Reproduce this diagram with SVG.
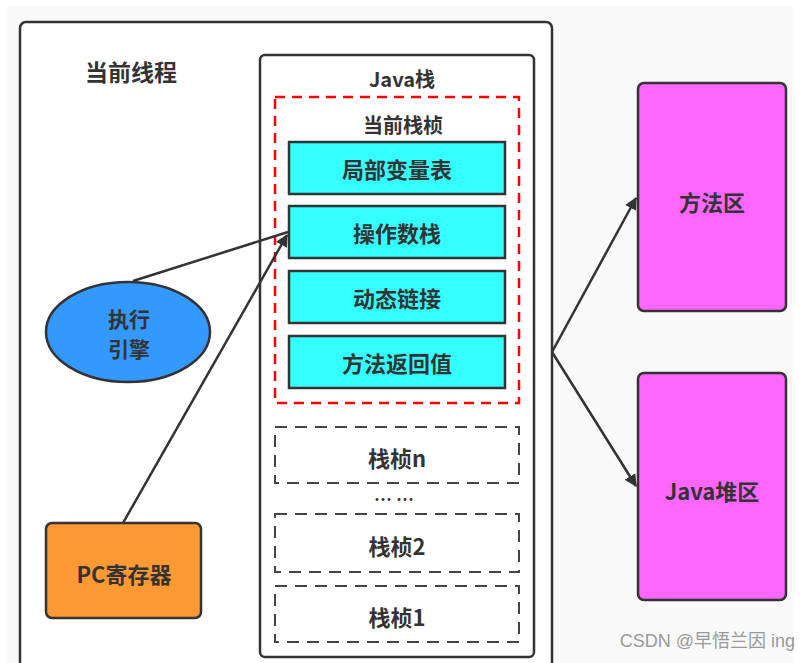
<svg xmlns="http://www.w3.org/2000/svg" width="811" height="663" viewBox="0 0 811 663">
<defs>
<style>
.t{font-family:"Noto Sans CJK SC","Noto Sans",sans-serif;font-weight:bold;fill:#333;text-anchor:middle;dominant-baseline:central}
.box{stroke:#333;stroke-width:2.5}
.cy{fill:#33ffff;stroke:#333;stroke-width:2.5}
.dash{fill:none;stroke:#444;stroke-width:2;stroke-dasharray:12 8}
.ln{stroke:#333;stroke-width:2.5;fill:none}
</style>
<marker id="ah" viewBox="0 0 10 10" refX="9" refY="5" markerWidth="5" markerHeight="5" markerUnits="strokeWidth" orient="auto">
<path d="M0,0 L10,5 L0,10 z" fill="#333"/>
</marker>
</defs>
<rect x="0" y="0" width="811" height="663" fill="#fff"/>
<rect x="7" y="7" width="786" height="656" fill="#f9f9f9"/>
<g id="thread">
<rect x="20" y="22" width="532" height="660" rx="6" fill="#fff" class="box"/>
<text class="t" x="131" y="71" font-size="23">当前线程</text>
</g>
<g id="javastack">
<rect x="260" y="55" width="274" height="602" rx="5" fill="#fff" class="box"/>
<text class="t" x="402" y="78" font-size="20">Java栈</text>
</g>
<g id="curframe">
<rect x="275" y="97" width="244" height="306" fill="none" stroke="#ff0000" stroke-width="2.5" stroke-dasharray="10 7"/>
<text class="t" x="403" y="124" font-size="20">当前栈桢</text>
</g>
<g id="locals"><rect class="cy" x="289" y="142" width="216" height="52"/><text class="t" x="397" y="168" font-size="22">局部变量表</text></g>
<g id="opstack"><rect class="cy" x="289" y="206" width="216" height="52"/><text class="t" x="397" y="232" font-size="22">操作数栈</text></g>
<g id="dynlink"><rect class="cy" x="289" y="271" width="216" height="52"/><text class="t" x="397" y="297" font-size="22">动态链接</text></g>
<g id="retval"><rect class="cy" x="289" y="336" width="216" height="52"/><text class="t" x="397" y="362" font-size="22">方法返回值</text></g>
<g id="framen"><rect class="dash" x="275" y="427" width="244" height="56"/><text class="t" x="397" y="457" font-size="22">栈桢n</text></g>
<g id="dots"><text class="t" x="394" y="498" font-size="18">… …</text></g>
<g id="frame2"><rect class="dash" x="275" y="514" width="244" height="58"/><text class="t" x="397" y="545" font-size="22">栈桢2</text></g>
<g id="frame1"><rect class="dash" x="275" y="586" width="244" height="56"/><text class="t" x="397" y="616" font-size="22">栈桢1</text></g>
<g id="engine">
<ellipse cx="128" cy="332" rx="82" ry="50" fill="#3399ff" class="box"/>
<text class="t" x="129" y="318" font-size="21">执行</text>
<text class="t" x="129" y="348" font-size="21">引擎</text>
</g>
<g id="pc">
<rect x="46" y="523" width="155" height="95" rx="6" fill="#ff9933" class="box"/>
<text class="t" x="124" y="573" font-size="22">PC寄存器</text>
</g>
<g id="methodarea">
<rect x="638" y="83" width="148" height="228" rx="6" fill="#ff66ff" class="box"/>
<text class="t" x="712" y="201" font-size="22">方法区</text>
</g>
<g id="heap">
<rect x="638" y="373" width="148" height="227" rx="6" fill="#ff66ff" class="box"/>
<text class="t" x="712" y="490" font-size="22">Java堆区</text>
</g>
<g id="connectors">
<line class="ln" x1="133" y1="281" x2="288" y2="232"/>
<line class="ln" x1="123" y1="523" x2="287" y2="235" marker-end="url(#ah)"/>
<line class="ln" x1="552" y1="352" x2="636" y2="198" marker-end="url(#ah)"/>
<line class="ln" x1="552" y1="352" x2="636" y2="486" marker-end="url(#ah)"/>
</g>
<text x="795" y="641" font-family="Liberation Sans,'Noto Sans CJK SC',sans-serif" font-size="18" fill="#999" text-anchor="end" dominant-baseline="central">CSDN @早悟兰因 ing</text>
</svg>
